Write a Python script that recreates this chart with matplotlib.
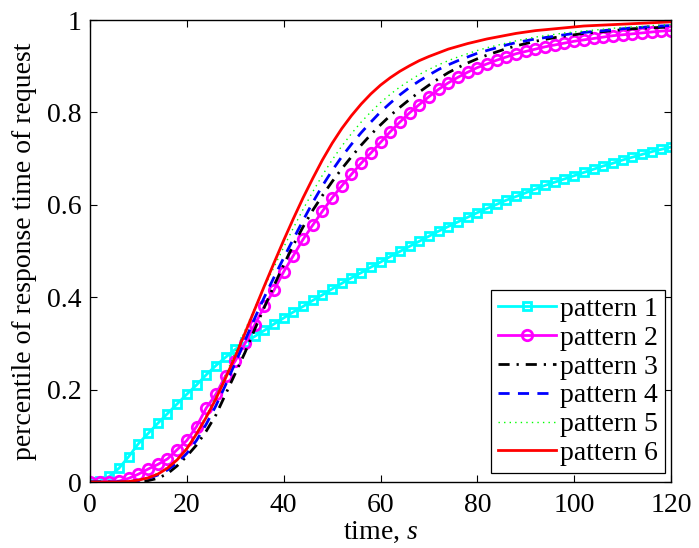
import numpy as np
import matplotlib
matplotlib.use("Agg")
import matplotlib.pyplot as plt

time_s = list(range(0, 121, 2))

pattern1 = [0.000, 0.002, 0.012, 0.030, 0.055, 0.083, 0.105, 0.127, 0.148, 0.169,
            0.190, 0.210, 0.232, 0.252, 0.270, 0.287, 0.302, 0.315, 0.328, 0.342,
            0.355, 0.368, 0.380, 0.393, 0.405, 0.418, 0.430, 0.442, 0.453, 0.465,
            0.476, 0.488, 0.499, 0.510, 0.521, 0.532, 0.543, 0.553, 0.563, 0.573,
            0.583, 0.592, 0.601, 0.610, 0.618, 0.626, 0.634, 0.642, 0.649, 0.656,
            0.663, 0.670, 0.677, 0.684, 0.690, 0.697, 0.703, 0.709, 0.715, 0.720,
            0.725]

pattern2 = [0.000, 0.000, 0.001, 0.002, 0.008, 0.017, 0.028, 0.038, 0.050, 0.070,
            0.090, 0.120, 0.160, 0.190, 0.230, 0.262, 0.300, 0.340, 0.380, 0.415,
            0.455, 0.490, 0.525, 0.556, 0.586, 0.615, 0.641, 0.666, 0.690, 0.712,
            0.735, 0.758, 0.779, 0.799, 0.817, 0.834, 0.850, 0.864, 0.876, 0.887,
            0.897, 0.905, 0.913, 0.920, 0.927, 0.932, 0.937, 0.942, 0.946, 0.950,
            0.954, 0.957, 0.960, 0.963, 0.966, 0.968, 0.970, 0.972, 0.974, 0.976,
            0.977]

pattern3 = [0.000, 0.000, 0.000, 0.000, 0.000, 0.001, 0.003, 0.008, 0.018, 0.035,
            0.056, 0.080, 0.110, 0.145, 0.190, 0.235, 0.280, 0.330, 0.378, 0.425,
            0.470, 0.513, 0.552, 0.588, 0.620, 0.650, 0.678, 0.704, 0.729, 0.752,
            0.773, 0.793, 0.811, 0.828, 0.844, 0.859, 0.873, 0.886, 0.897, 0.907,
            0.916, 0.924, 0.931, 0.938, 0.944, 0.949, 0.954, 0.958, 0.962, 0.965,
            0.968, 0.971, 0.973, 0.975, 0.977, 0.979, 0.981, 0.982, 0.983, 0.984,
            0.985]

pattern4 = [0.000, 0.000, 0.000, 0.000, 0.001, 0.003, 0.008, 0.015, 0.026, 0.041,
            0.062, 0.090, 0.125, 0.165, 0.210, 0.258, 0.306, 0.354, 0.400, 0.443,
            0.485, 0.526, 0.566, 0.605, 0.641, 0.674, 0.704, 0.731, 0.756, 0.779,
            0.801, 0.820, 0.838, 0.854, 0.868, 0.881, 0.893, 0.903, 0.912, 0.920,
            0.928, 0.934, 0.940, 0.946, 0.951, 0.955, 0.959, 0.962, 0.965, 0.968,
            0.971, 0.973, 0.975, 0.977, 0.979, 0.981, 0.983, 0.984, 0.986, 0.987,
            0.988]

pattern5 = [0.000, 0.000, 0.000, 0.000, 0.001, 0.004, 0.010, 0.019, 0.032, 0.050,
            0.074, 0.106, 0.144, 0.186, 0.232, 0.280, 0.328, 0.376, 0.422, 0.465,
            0.508, 0.550, 0.590, 0.628, 0.664, 0.697, 0.727, 0.754, 0.779, 0.801,
            0.821, 0.839, 0.855, 0.869, 0.882, 0.893, 0.903, 0.912, 0.920, 0.927,
            0.934, 0.940, 0.945, 0.950, 0.955, 0.959, 0.963, 0.966, 0.969, 0.972,
            0.974, 0.976, 0.978, 0.980, 0.982, 0.984, 0.985, 0.986, 0.988, 0.989,
            0.990]

pattern6 = [0.000, 0.000, 0.000, 0.000, 0.001, 0.004, 0.009, 0.017, 0.030, 0.048,
            0.072, 0.104, 0.140, 0.180, 0.225, 0.272, 0.322, 0.373, 0.424, 0.474,
            0.523, 0.570, 0.615, 0.657, 0.697, 0.733, 0.765, 0.793, 0.818, 0.840,
            0.859, 0.875, 0.889, 0.901, 0.912, 0.921, 0.929, 0.937, 0.943, 0.949,
            0.954, 0.959, 0.963, 0.967, 0.971, 0.974, 0.977, 0.979, 0.981, 0.983,
            0.985, 0.987, 0.988, 0.989, 0.990, 0.991, 0.992, 0.993, 0.994, 0.995,
            0.996]

labels = ["pattern 1", "pattern 2", "pattern 3", "pattern 4", "pattern 5", "pattern 6"]
x_ticks = [0, 20, 40, 60, 80, 100, 120]
y_ticks = [0, 0.2, 0.4, 0.6, 0.8, 1]
y_ticklabels = ["0", "0.2", "0.4", "0.6", "0.8", "1"]

plt.rcParams["font.family"] = ["Liberation Serif", "DejaVu Serif"]
plt.rcParams["mathtext.fontset"] = "custom"
plt.rcParams["mathtext.it"] = "Liberation Serif:italic"
plt.rcParams["mathtext.rm"] = "Liberation Serif"

FS = 20

fig = plt.figure(figsize=(6.99, 5.48), dpi=100)
ax = fig.add_axes([90/699, 1-482/548, (671-90)/699, (482-20)/548])

ax.plot(time_s, pattern1, color="#00FFFF", lw=2, marker="s", ms=5.5, mew=2,
        mfc="none", label=labels[0])
ax.plot(time_s, pattern2, color="#FF00FF", lw=2, marker="o", ms=7.5, mew=2,
        mfc="none", label=labels[1])
ax.plot(time_s, pattern3, color="black", lw=2, ls=(0, (4, 2.5, 0.8, 2.5)), label=labels[2])
ax.plot(time_s, pattern4, color="#0000FF", lw=2, ls=(0, (4, 3)), label=labels[3])
ax.plot(time_s, pattern5, color="#00FF00", lw=1, ls=(0, (1, 3)), label=labels[4])
ax.plot(time_s, pattern6, color="#FF0000", lw=2, label=labels[5])

ax.set_xlim(0, 120)
ax.set_ylim(0, 1)
ax.set_xticks(x_ticks)
ax.set_yticks(y_ticks)
ax.set_yticklabels(y_ticklabels)
ax.tick_params(direction="in", length=5, width=0.8, top=True, right=True,
               labelsize=FS)
ax.tick_params(axis="x", pad=8)
ax.tick_params(axis="y", pad=6)
for s in ax.spines.values():
    s.set_linewidth(1)

ax.set_xlabel("time, $s$", fontsize=FS, labelpad=1)
ax.set_ylabel("percentile of response time of request", fontsize=FS, labelpad=7)

leg = ax.legend(loc="lower right", bbox_to_anchor=((665-90)/581, (482-473)/462),
                fontsize=FS, handlelength=2.1, fancybox=False,
                framealpha=1, edgecolor="black", borderaxespad=0,
                labelspacing=0.12, handletextpad=0.15, borderpad=0.25)
leg.get_frame().set_linewidth(0.9)

fig.savefig("out.png", dpi=100)
